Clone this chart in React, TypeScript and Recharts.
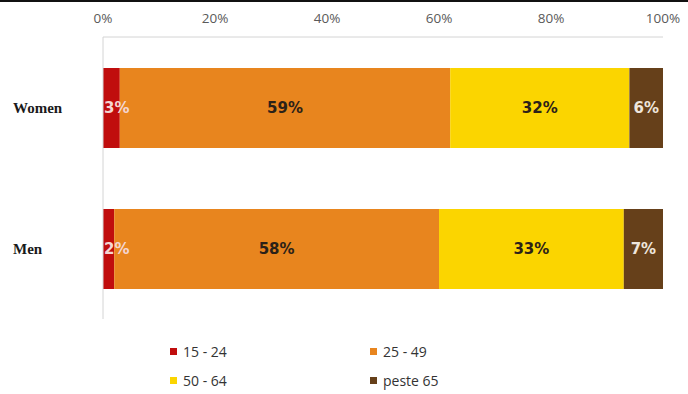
import { BarChart, Bar, XAxis, YAxis, LabelList } from "recharts"

const groups = ["Women", "Men"]
const age15to24 = [3, 2]
const age25to49 = [59, 58]
const age50to64 = [32, 33]
const over65 = [6, 7]
const xTicks = [0, 20, 40, 60, 80, 100]

const series = [
  { key: "a", name: "15 - 24", values: age15to24, color: "#c00d0d", text: "#f4d6d2", pos: "insideLeft" },
  { key: "b", name: "25 - 49", values: age25to49, color: "#e8851e", text: "#2b2118", pos: "center" },
  { key: "c", name: "50 - 64", values: age50to64, color: "#fbd500", text: "#2b2118", pos: "center" },
  { key: "d", name: "peste 65", values: over65, color: "#66401a", text: "#efe6dc", pos: "center" },
]

const chartData = groups.map((g, i) => {
  const row: Record<string, string | number> = { group: g }
  series.forEach((s) => {
    row[s.key] = s.values[i]
  })
  return row
})

// eslint-disable-next-line @typescript-eslint/no-explicit-any
const GroupTick = ({ y, payload }: any) => (
  <text
    x={13}
    y={y}
    dy={5}
    textAnchor="start"
    fill="#1a1a1a"
    fontFamily="'Liberation Serif', serif"
    fontWeight={700}
    fontSize={15}
  >
    {payload.value}
  </text>
)

const LegendBox = () => (
  <div
    style={{
      position: "absolute",
      top: 341,
      left: 170,
      display: "grid",
      gridTemplateColumns: "200px 200px",
      rowGap: 9,
      fontFamily: "'Open Sans', sans-serif",
      fontSize: 14,
      color: "#333",
    }}
  >
    {series.map((s) => (
      <div key={s.key} style={{ display: "flex", alignItems: "center", height: 20 }}>
        <span style={{ width: 7, height: 7, background: s.color, marginRight: 6, display: "inline-block" }} />
        {s.name}
      </div>
    ))}
  </div>
)

export default function App() {
  return (
    <div style={{ position: "fixed", left: 0, top: 0, width: 688, height: 394, background: "#fff" }}>
      <div style={{ position: "absolute", left: 0, top: 0, width: 688, height: 2, background: "#111" }} />
      <BarChart
        width={688}
        height={394}
        data={chartData}
        layout="vertical"
        margin={{ left: 0, right: 25, top: 7, bottom: 75 }}
        barSize={80}
      >
        <XAxis
          type="number"
          orientation="top"
          domain={[0, 100]}
          ticks={xTicks}
          tickFormatter={(v: number) => `${v}%`}
          height={30}
          tickSize={0}
          tickMargin={14}
          axisLine={{ stroke: "#d4d4d4" }}
          tick={{ fill: "#5a5a5a", fontSize: 13.5, fontFamily: "'Open Sans', sans-serif" }}
        />
        <YAxis
          type="category"
          dataKey="group"
          width={103}
          tickLine={false}
          axisLine={{ stroke: "#d4d4d4" }}
          tick={<GroupTick />}
        />
        {series.map((s) => (
          <Bar key={s.key} dataKey={s.key} name={s.name} stackId="1" fill={s.color} isAnimationActive={false}>
            <LabelList
              dataKey={s.key}
              position={s.pos as "center"}
              offset={1}
              formatter={(v: number) => `${v}%`}
              fill={s.text}
              fontSize={15}
              fontWeight={700}
              fontFamily="'DejaVu Sans', sans-serif"
            />
          </Bar>
        ))}
      </BarChart>
      <LegendBox />
    </div>
  )
}
